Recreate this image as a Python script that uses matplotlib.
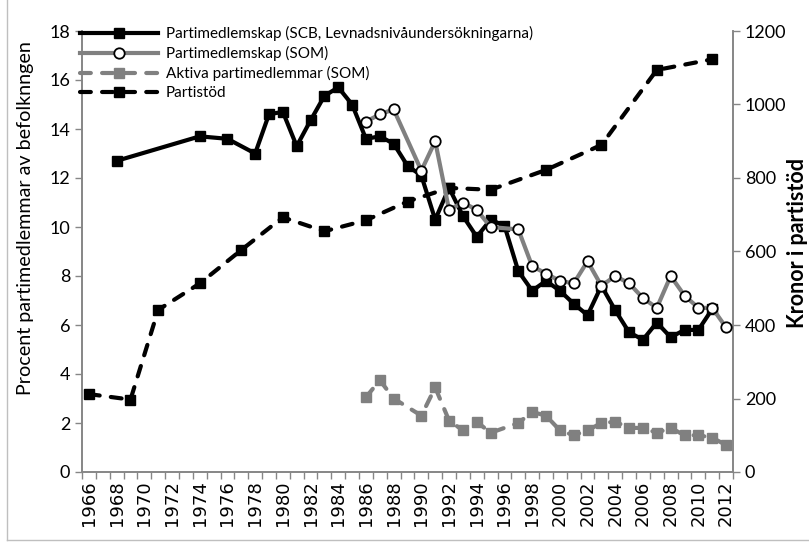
import numpy as np
import matplotlib
matplotlib.use('Agg')
from matplotlib import pyplot as plt
from matplotlib.lines import Line2D

# Partimedlemskap (SCB, Levnadsnivåundersökningarna), percent
scb_years = [1968, 1974, 1976, 1978, 1979, 1980, 1981, 1982, 1983, 1984, 1985,
             1986, 1987, 1988, 1989, 1990, 1991, 1992, 1993, 1994, 1995, 1996,
             1997, 1998, 1999, 2000, 2001, 2002, 2003, 2004, 2005, 2006, 2007,
             2008, 2009, 2010, 2011]
scb_vals = [12.7, 13.7, 13.6, 13.0, 14.6, 14.7, 13.3, 14.35, 15.35, 15.7, 15.0,
            13.6, 13.7, 13.4, 12.5, 12.1, 10.3, 11.6, 10.45, 9.6, 10.3, 10.05,
            8.2, 7.4, 7.8, 7.4, 6.87, 6.4, 7.6, 6.6, 5.7, 5.4, 6.1,
            5.5, 5.8, 5.8, 6.65]

# Partimedlemskap (SOM), percent
som_years = [1986, 1987, 1988, 1990, 1991, 1992, 1993, 1994, 1995, 1997, 1998,
             1999, 2000, 2001, 2002, 2003, 2004, 2005, 2006, 2007, 2008, 2009,
             2010, 2011, 2012]
som_vals = [14.3, 14.6, 14.8, 12.3, 13.5, 10.7, 11.0, 10.7, 10.0, 9.9, 8.4,
            8.1, 7.8, 7.7, 8.6, 7.6, 8.0, 7.7, 7.1, 6.7, 8.0, 7.2,
            6.7, 6.7, 5.9]

# Aktiva partimedlemmar (SOM), percent
akt_years = [1986, 1987, 1988, 1990, 1991, 1992, 1993, 1994, 1995, 1997, 1998,
             1999, 2000, 2001, 2002, 2003, 2004, 2005, 2006, 2007, 2008, 2009,
             2010, 2011, 2012]
akt_vals = [3.05, 3.75, 3.0, 2.3, 3.45, 2.1, 1.7, 2.05, 1.6, 2.0, 2.45,
            2.3, 1.7, 1.5, 1.7, 2.0, 2.05, 1.8, 1.8, 1.6, 1.8, 1.5,
            1.5, 1.4, 1.1]

# Partistöd, kronor (right axis)
stod_years = [1966, 1969, 1971, 1974, 1977, 1980, 1983, 1986, 1989, 1992, 1995,
              1999, 2003, 2007, 2011]
stod_vals = [212, 197, 441, 513, 604, 693, 655, 685, 736, 773, 768,
             822, 890, 1094, 1123]

labels = ['Partimedlemskap (SCB, Levnadsnivåundersökningarna)',
          'Partimedlemskap (SOM)',
          'Aktiva partimedlemmar (SOM)',
          'Partistöd']

gray = '#808080'
axis_gray = '#868686'
font = 'Lato'

fig = plt.figure(figsize=(8.09, 5.46), dpi=100)
ax = fig.add_axes([82 / 809, 74 / 546, 651 / 809, 441 / 546])
ax2 = ax.twinx()
ax.set_zorder(ax2.get_zorder() + 1)
ax.patch.set_visible(False)

lw = 3.0
dash = (2.6, 2.7)

l_stod, = ax2.plot(stod_years, stod_vals, color='black', lw=lw, ls=(0, dash),
                   dash_capstyle='round', marker='s', ms=7, mfc='black', mec='black')
l_akt, = ax.plot(akt_years, akt_vals, color=gray, lw=lw, ls=(0, dash),
                 dash_capstyle='round', marker='s', ms=7, mfc=gray, mec=gray)
l_som, = ax.plot(som_years, som_vals, color=gray, lw=lw, marker='o', ms=7.5,
                 mfc='white', mec='black', mew=1.3, zorder=3)
l_scb, = ax.plot(scb_years, scb_vals, color='black', lw=lw, marker='s', ms=7,
                 mfc='black', mec='black', zorder=2.5)

ax.set_xlim(1965.5, 2012.5)
ax.set_ylim(0, 18)
ax2.set_ylim(0, 1200)

ax.set_yticks(np.arange(0, 19, 2))
ax2.set_yticks(np.arange(0, 1201, 200))
ax.set_xticks(np.arange(1966, 2013, 2))
ax.set_xticklabels([str(y) for y in range(1966, 2013, 2)], rotation=90,
                   fontsize=13, family='DejaVu Sans')
ax.set_xticks(np.arange(1965.5, 2013, 1), minor=True)
ax.tick_params(axis='x', which='major', length=0, pad=6)
ax.tick_params(axis='x', which='minor', length=5, width=1, color=axis_gray)
ax.tick_params(axis='y', length=5, width=1, color=axis_gray, labelsize=13)
ax2.tick_params(axis='y', length=5, width=1, color=axis_gray, labelsize=13)
for t in ax.get_yticklabels() + ax2.get_yticklabels():
    t.set_family(font)

for a in (ax, ax2):
    a.spines['top'].set_visible(False)
    for s in ('left', 'right', 'bottom'):
        a.spines[s].set_color(axis_gray)
        a.spines[s].set_linewidth(1.2)

fig.text(26 / 809, 1 - 218 / 546, 'Procent partimedlemmar av befolknngen',
         rotation=90, ha='center', va='center', fontsize=14.2, family=font)
fig.text(797 / 809, 1 - 243 / 546, 'Kronor i partistöd', rotation=90,
         ha='center', va='center', fontsize=15.5, family=font, fontweight='bold')

leg = ax.legend([l_scb, l_som, l_akt, l_stod], labels, loc='upper left',
                bbox_to_anchor=(80 / 809, 1 - 26 / 546), bbox_transform=fig.transFigure,
                frameon=False, prop={'family': font, 'size': 11},
                handlelength=5.1, handletextpad=0.5, labelspacing=0.32,
                borderaxespad=0, borderpad=0)

# chart frame
fig.add_artist(Line2D([7 / 809, 7 / 809], [6 / 546, 1.0], color='#bfbfbf', lw=1))
fig.add_artist(Line2D([7 / 809, 1.0], [6 / 546, 6 / 546], color='#bfbfbf', lw=1))

fig.savefig('out.png', dpi=100)
